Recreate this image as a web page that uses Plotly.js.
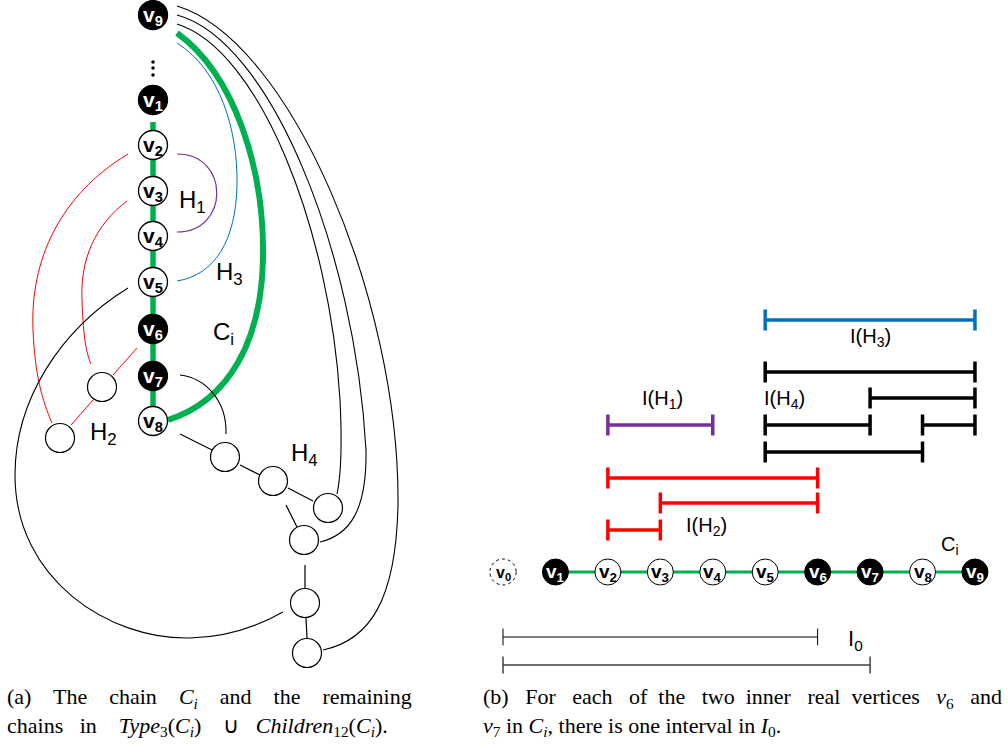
<!DOCTYPE html>
<html><head><meta charset="utf-8">
<script src="https://cdn.plot.ly/plotly-3.0.1.min.js"></script>
<style>html,body{margin:0;padding:0;background:#fff}#c{width:1008px;height:746px}</style>
</head><body><div id="c"></div><script>
// ---------- data: panel (a) ----------
const leftChainLabels = ['9','1','2','3','4','5','6','7','8'];
const leftChainX = [153,153,153,153,153,153,153,153,153];
const leftChainY = [15,100,145,191,236,282,329,376,421];
const leftChainReal = [1,1,0,0,0,0,1,1,0];
const ellipsisY = [62,68,75];
const h2NodeX = [102,60];
const h2NodeY = [387,438];
const h4NodeX = [225,273,328,304,305,307];
const h4NodeY = [457,481,508,540,603,653];
// straight edges [x0,y0,x1,y1]
const blackEdges = [[180,434,212,450],[240,465,260,475],[288,488,313,501],[286,505,297,527],[305,565,305,588],[306,618,307,638]];
const redEdges = [[137,348,113,375],[93,400,71,425]];
// curves: start point followed by cubic control triples
const curveGreen = [[177,33],[235,75],[265,170],[263,260],[261,340],[230,400],[168,420]];
const curveBlue = [[177,43],[220,70],[238,130],[237,185],[236,240],[215,275],[177,281]];
const curvePurple = [[177,154],[230,154],[230,232],[177,232]];
const curveRedOuter = [[128,154],[60,195],[30,260],[33,330],[35,375],[42,400],[52,423]];
const curveRedInner = [[127,201],[95,225],[80,260],[82,300],[83,330],[85,350],[91,364]];
const curveLoop = [[128,288],[60,330],[15,400],[15,475],[15,580],[110,640],[190,638],[230,637],[260,625],[283,612]];
const curveV7 = [[180,375],[205,378],[227,400],[226,434]];
const curveA = [[177,24],[260,50],[330,230],[340,400],[342,440],[341,475],[337,494]];
const curveB = [[177,15],[270,40],[355,250],[366,450],[367,510],[350,535],[320,542]];
const curveC = [[177,6],[290,40],[400,300],[398,505],[396,600],[370,640],[323,650]];
const leftLabels = ['H<sub>1</sub>','H<sub>3</sub>','C<sub>i</sub>','H<sub>2</sub>','H<sub>4</sub>'];
const leftLabelX = [192,229,223,103,304];
const leftLabelY = [201,273,333,433,454];

// ---------- data: panel (b) ----------
const chainIndex = [1,2,3,4,5,6,7,8,9];
const chainReal = [1,0,0,0,0,1,1,0,1];
const blueIntervals = [[5,9]];
const blueRows = [320];
const blackIntervals = [[5,9],[7,9],[5,7],[8,9],[5,8]];
const blackRows = [372,398,425,425,452];
const purpleIntervals = [[2,4]];
const purpleRows = [425];
const redIntervals = [[2,6],[3,6],[2,3]];
const redRows = [478,503,530];
const i0Intervals = [[0,6],[0,7]];
const i0Rows = [637,665];
const rightLabels = ['I(H<sub>3</sub>)','I(H<sub>4</sub>)','I(H<sub>1</sub>)','I(H<sub>2</sub>)','I<sub>0</sub>','C<sub>i</sub>'];
const rightLabelX = [870,784,662,706,855,950];
const rightLabelY = [337,399,399,526,640,545];

// ---------- layout constants ----------
const W = 1008, H = 746;
const chainY = 572, idxX0 = 503, idxStep = 52.44;
const GREEN = '#00b050', BLUE = '#0070c0', PURPLE = '#7030a0', RED = '#ff0000';
const SANS = 'Liberation Sans, Arial, sans-serif';

function pathOf(p){
  let s = 'M' + p[0][0] + ',' + p[0][1];
  for (let i = 1; i + 2 <= p.length - 1; i += 3)
    s += ' C' + p[i][0] + ',' + p[i][1] + ' ' + p[i+1][0] + ',' + p[i+1][1] + ' ' + p[i+2][0] + ',' + p[i+2][1];
  return s;
}
function curveShape(p, color, width){
  return {type:'path', xref:'x', yref:'y', path: pathOf(p), layer:'below', line:{color, width}};
}
function edgeTrace(list, color, width){
  const x = [], y = [];
  list.forEach(e => { x.push(e[0], e[2], null); y.push(e[1], e[3], null); });
  return {x, y, mode:'lines', line:{color, width}, hoverinfo:'skip', showlegend:false, xaxis:'x', yaxis:'y'};
}
function intervalTrace(ints, rows, color, width, cap){
  const x = [], y = [];
  ints.forEach((iv, k) => { x.push(iv[0], iv[1], null); y.push(rows[k], rows[k], null); });
  return {x, y, mode:'lines+markers', xaxis:'x2', yaxis:'y', line:{color, width},
    marker:{symbol:'line-ns', size:cap, color, line:{color, width}}, hoverinfo:'skip', showlegend:false};
}
// justify-like spacing: words joined with per-gap extra non-breaking spaces
function spread(words, extra){
  let s = words[0];
  for (let i = 1; i < words.length; i++) s += '\u00A0'.repeat(extra[i-1]) + ' ' + words[i];
  return s;
}

const traces = [];
traces.push({x:[leftChainX[1], leftChainX[8]], y:[122, leftChainY[8]], mode:'lines', line:{color:GREEN, width:5.5}, hoverinfo:'skip', showlegend:false});
traces.push(edgeTrace(blackEdges, '#000', 1.2));
traces.push(edgeTrace(redEdges, RED, 1));
traces.push({x: ellipsisY.map(() => leftChainX[0]), y: ellipsisY, mode:'markers', marker:{size:3.5, color:'#000'}, hoverinfo:'skip', showlegend:false});
traces.push({x:leftChainX, y:leftChainY, mode:'markers',
  marker:{size:29, color: leftChainReal.map(r => r ? '#000' : '#fff'), line:{color:'#000', width:1.3}},
  hoverinfo:'skip', showlegend:false});
traces.push({x: h2NodeX.concat(h4NodeX), y: h2NodeY.concat(h4NodeY), mode:'markers',
  marker:{size:29, color:'#fff', line:{color:'#000', width:1.2}}, hoverinfo:'skip', showlegend:false});

traces.push({x:[chainIndex[0], chainIndex[chainIndex.length-1]], y:[chainY, chainY], xaxis:'x2', yaxis:'y', mode:'lines', line:{color:GREEN, width:3}, hoverinfo:'skip', showlegend:false});
traces.push({x:chainIndex, y:chainIndex.map(() => chainY), xaxis:'x2', yaxis:'y', mode:'markers',
  marker:{size:26, color: chainReal.map(r => r ? '#000' : '#fff'), line:{color:'#000', width:1}},
  hoverinfo:'skip', showlegend:false});
traces.push(intervalTrace(blueIntervals, blueRows, BLUE, 3.5, 15));
traces.push(intervalTrace(blackIntervals, blackRows, '#000', 3.5, 15));
traces.push(intervalTrace(purpleIntervals, purpleRows, PURPLE, 3.5, 15));
traces.push(intervalTrace(redIntervals, redRows, RED, 3.5, 15));
traces.push(intervalTrace([i0Intervals[0]], [i0Rows[0]], '#000', 1, 12));
traces.push(intervalTrace([i0Intervals[1]], [i0Rows[1]], '#404040', 1.5, 12));

const shapes = [
  curveShape(curveC, '#000', 1.1), curveShape(curveB, '#000', 1.1), curveShape(curveA, '#000', 1.1),
  curveShape(curveGreen, GREEN, 6), curveShape(curveBlue, BLUE, 1), curveShape(curvePurple, PURPLE, 1.2),
  curveShape(curveRedOuter, RED, 1), curveShape(curveRedInner, RED, 1),
  curveShape(curveLoop, '#000', 1.1), curveShape(curveV7, '#000', 1.1),
  {type:'circle', xref:'x2', yref:'y', x0:-0.25, x1:0.25, y0:chainY-13, y1:chainY+13, line:{color:'#000', width:1, dash:'dot'}, layer:'below'}
];

const annotations = [];
// vertex labels as annotations placed through the axes
leftChainLabels.forEach((d, k) => annotations.push({xref:'x', yref:'y', x:leftChainX[k], y:leftChainY[k] + 1, text:'<b>v<sub>' + d + '</sub></b>',
  showarrow:false, xanchor:'center', yanchor:'middle', font:{family:SANS, size:21, color: leftChainReal[k] ? '#fff' : '#000'}}));
chainIndex.forEach((d, k) => annotations.push({xref:'x2', yref:'y', x:d, y:chainY + 1, text:'<b>v<sub>' + d + '</sub></b>',
  showarrow:false, xanchor:'center', yanchor:'middle', font:{family:SANS, size:19, color: chainReal[k] ? '#fff' : '#000'}}));
annotations.push({xref:'x2', yref:'y', x:0, y:chainY + 1, text:'<b>v<sub>0</sub></b>',
  showarrow:false, xanchor:'center', yanchor:'middle', font:{family:SANS, size:16, color:'#000'}});
leftLabels.forEach((t, k) => annotations.push({xref:'x', yref:'y', x:leftLabelX[k], y:leftLabelY[k], text:t, showarrow:false,
  xanchor:'center', yanchor:'middle', font:{family:SANS, size:24, color:'#000'}}));
rightLabels.forEach((t, k) => annotations.push({xref:'x', yref:'y', x:rightLabelX[k], y:rightLabelY[k], text:t, showarrow:false,
  xanchor:'center', yanchor:'middle', font:{family:SANS, size: k === 4 ? 22 : 20, color:'#000'}}));
const capFont = {family:'Liberation Serif, Times New Roman, serif', size:22, color:'#000'};
const Ci = '<i>C</i><sub><i>i</i></sub>';
const a1 = spread(['(a)','The','chain',Ci,'and','the','remaining'], [3,3,3,3,3,3]);
const a2 = spread(['chains','in','<i>Type</i><sub>3</sub>(' + Ci + ')','∪','<i>Children</i><sub>12</sub>(' + Ci + ').'], [2,3,3,2]);
const b1 = spread(['(b)','For','each','of','the','two','inner','real','vertices','<i>v</i><sub>6</sub>','and'], [2,2,2,1,2,1,2,1,2,2]);
const b2 = '<i>v</i><sub>7</sub> in ' + Ci + ', there is one interval in <i>I</i><sub>0</sub>.';
annotations.push({xref:'x', yref:'y', x:5, y:682, xanchor:'left', yanchor:'top', align:'left', showarrow:false, font:capFont,
  text: a1 + '<br>' + a2});
annotations.push({xref:'x', yref:'y', x:481, y:682, xanchor:'left', yanchor:'top', align:'left', showarrow:false, font:capFont,
  text: b1 + '<br>' + b2});

const layout = {
  width:W, height:H, margin:{l:0, r:0, t:0, b:0}, paper_bgcolor:'#fff', plot_bgcolor:'#fff', showlegend:false,
  xaxis:{range:[0, W], visible:false, fixedrange:true},
  xaxis2:{range:[-idxX0/idxStep, (W-idxX0)/idxStep], overlaying:'x', visible:false, fixedrange:true},
  yaxis:{range:[H, 0], visible:false, fixedrange:true},
  shapes, annotations
};
Plotly.newPlot('c', traces, layout, {staticPlot:true, displayModeBar:false});
</script></body></html>
